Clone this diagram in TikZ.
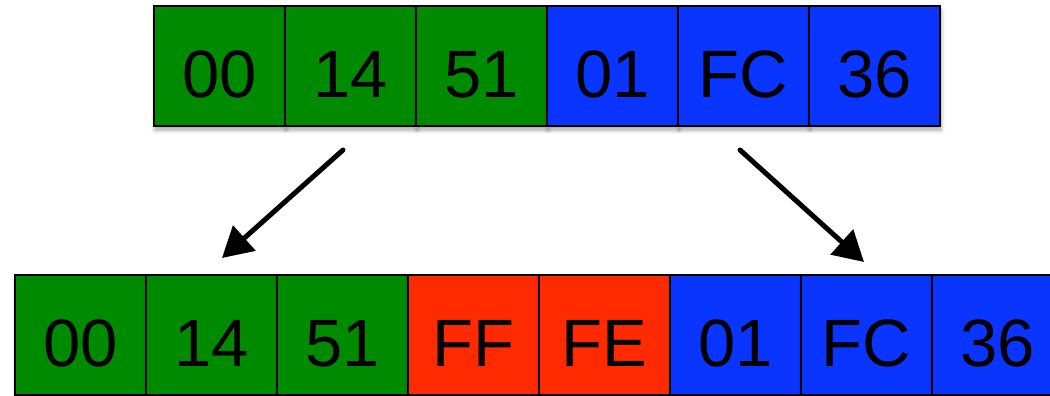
\documentclass[tikz,border=0pt]{standalone}
\usepackage{fontspec}
\setmainfont{Liberation Sans}
\usepackage{tikz}
\usetikzlibrary{positioning, arrows.meta, shadows.blur}

\definecolor{cellgreen}{HTML}{008A00}
\definecolor{cellblue}{HTML}{0A34FF}
\definecolor{cellred}{HTML}{FF2A00}

\begin{document}
\begin{tikzpicture}[x=1pt, y=1pt, on grid, node distance=131pt,
    cell/.style={draw=black, line width=1.4pt, minimum width=131pt, minimum height=120pt,
        inner sep=0pt, outer sep=0pt, text height=63pt, text depth=0pt,
        font=\fontsize{67}{70}\selectfont,
        blur shadow={shadow xshift=1pt, shadow yshift=-4pt, shadow blur steps=6, shadow blur radius=4pt, shadow opacity=35}},
    g/.style={cell, fill=cellgreen},
    b/.style={cell, fill=cellblue},
    r/.style={cell, fill=cellred},
    bigarrow/.style={line width=5pt, line cap=round, -{Triangle[length=30pt, width=33pt]}}]
        \useasboundingbox (0,0) rectangle (1050,-396);
        \clip (0,0) rectangle (1050,-396);

        % top row
        \node[g] (t00) at (219.5,-66) {00};
        \node[g] (t14) [right=of t00] {14};
        \node[g] (t51) [right=of t14] {51};
        \node[b] (t01) [right=of t51] {01};
        \node[b] (tfc) [right=of t01] {FC};
        \node[b] (t36) [right=of tfc] {36};

        % bottom row
        \node[g] (b00) at (80.5,-335) {00};
        \node[g] (b14) [right=of b00] {14};
        \node[g] (b51) [right=of b14] {51};
        \node[r] (bff) [right=of b51] {FF};
        \node[r] (bfe) [right=of bff] {FE};
        \node[b] (b01) [right=of bfe] {01};
        \node[b] (bfc) [right=of b01] {FC};
        \node[b] (b36) [right=of bfc] {36};

        \draw[bigarrow] ([shift={(-7.5,-24)}]t14.south) -- ([shift={(10.5,17)}]b14.north);
        \draw[bigarrow] ([shift={(-3.5,-24)}]tfc.south) -- ([shift={(-2.5,13)}]bfc.north);
\end{tikzpicture}
\end{document}
